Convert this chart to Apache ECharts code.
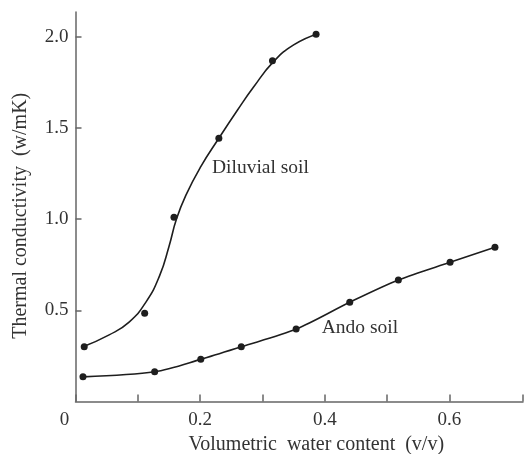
<!DOCTYPE html>
<html>
<head>
<meta charset="utf-8">
<script src="https://cdn.jsdelivr.net/npm/echarts@6/dist/echarts.min.js"></script>
<style>
  html, body { margin: 0; padding: 0; background: #fff; }
  #chart { width: 532px; height: 454px; }
</style>
</head>
<body>
<div id="chart"></div>
<script>
// measured points [water content, conductivity]
const diluvialPoints = [
  [0.014, 0.300], [0.111, 0.484], [0.158, 1.010],
  [0.230, 1.443], [0.316, 1.868], [0.386, 2.013],
]
// fitted curve
const diluvialCurve = [
  [0.012, 0.300], [0.054, 0.365], [0.086, 0.435], [0.113, 0.545],
  [0.135, 0.690], [0.150, 0.850], [0.162, 1.000], [0.177, 1.130],
  [0.201, 1.287], [0.230, 1.443], [0.260, 1.598], [0.286, 1.725],
  [0.317, 1.860], [0.350, 1.955], [0.388, 2.015],
]
const andoPoints = [
  [0.012, 0.135], [0.127, 0.163], [0.201, 0.231], [0.266, 0.300],
  [0.354, 0.397], [0.440, 0.544], [0.518, 0.666], [0.601, 0.763],
  [0.673, 0.845],
]
const xLabels = [0, 0.2, 0.4, 0.6]
const xTicks = [0, 0.1, 0.2, 0.3, 0.4, 0.5, 0.6, 0.718]
const yLabels = [0.5, 1.0, 1.5, 2.0]

const FONT = 'Liberation Serif'
const INK = '#1e1e1e'
const AXIS = '#666'
const TEXT = '#333'

const chart = echarts.init(document.getElementById('chart'))

chart.setOption({
  backgroundColor: '#fff',
  animation: false,
  grid: { left: 75.5, right: 9, top: 12, bottom: 52.5, outerBoundsMode: 'none' },
  xAxis: {
    type: 'value',
    min: 0,
    max: 0.718,
    name: 'Volumetric  water content  (v/v)',
    nameLocation: 'middle',
    nameGap: 33,
    nameTextStyle: { fontFamily: FONT, fontSize: 20, color: TEXT, padding: [0, 0, 0, 34] },
    splitLine: { show: false },
    axisLine: { lineStyle: { color: AXIS, width: 1.5 } },
    axisTick: { inside: true, length: 7, customValues: xTicks, lineStyle: { color: AXIS, width: 1.5 } },
    axisLabel: {
      margin: 9,
      customValues: xLabels,
      fontFamily: FONT,
      fontSize: 19,
      color: TEXT,
      formatter: v => (v === 0 ? '{z|0}' : v.toFixed(1)),
      rich: { z: { fontFamily: FONT, fontSize: 19, color: TEXT, padding: [0, 22, 0, 0] } },
    },
  },
  yAxis: {
    type: 'value',
    min: 0,
    max: 2.135,
    name: 'Thermal conductivity  (w/mK)',
    nameLocation: 'middle',
    nameGap: 45,
    nameTextStyle: { fontFamily: FONT, fontSize: 20, color: TEXT, padding: [0, 18, 0, 0] },
    splitLine: { show: false },
    axisLine: { lineStyle: { color: AXIS, width: 1.5 } },
    axisTick: { inside: true, length: 6, customValues: yLabels, lineStyle: { color: AXIS, width: 1.5 } },
    axisLabel: {
      margin: 7,
      customValues: yLabels,
      fontFamily: FONT,
      fontSize: 19,
      color: TEXT,
      formatter: v => v.toFixed(1),
    },
  },
  series: [
    {
      name: 'Diluvial soil',
      type: 'line',
      data: diluvialCurve,
      smooth: 0.5,
      showSymbol: false,
      lineStyle: { color: INK, width: 1.6 },
      markPoint: {
        symbol: 'circle',
        symbolSize: 0,
        label: {
          show: true, formatter: 'Diluvial soil', position: 'right', distance: 0,
          fontFamily: FONT, fontSize: 19.5, color: TEXT,
        },
        data: [{ coord: [0.219, 1.28] }],
      },
    },
    {
      name: 'Diluvial points',
      type: 'scatter',
      data: diluvialPoints,
      symbol: 'circle',
      symbolSize: 7,
      itemStyle: { color: INK, opacity: 1 },
    },
    {
      name: 'Ando soil',
      type: 'line',
      data: andoPoints,
      smooth: 0.3,
      symbol: 'circle',
      symbolSize: 7,
      itemStyle: { color: INK },
      lineStyle: { color: INK, width: 1.6 },
      markPoint: {
        symbol: 'circle',
        symbolSize: 0,
        label: {
          show: true, formatter: 'Ando soil', position: 'right', distance: 0,
          fontFamily: FONT, fontSize: 19.5, color: TEXT,
        },
        data: [{ coord: [0.395, 0.403] }],
      },
    },
  ],
})

window.addEventListener('resize', () => chart.resize())
</script>
</body>
</html>
